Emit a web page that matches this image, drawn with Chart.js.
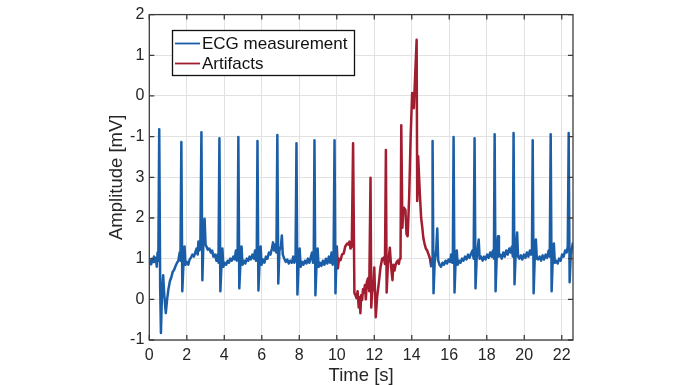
<!DOCTYPE html>
<html lang="en">
<head>
    <meta charset="UTF-8">
    <title>ECG measurement with artifacts</title>
    <script src="https://cdn.jsdelivr.net/npm/chart.js"></script>
    <style>
        body { margin: 0; background: #fff; }
        #wrap { width: 696px; height: 385px; position: relative; }
    </style>
</head>
<body>
    <div id="wrap"><canvas id="ecgChart"></canvas></div>

    <script>
        // tick labels as printed on the original y axis (bottom to top)
        const yTickLabels = ["-1", "0", "1", "2", "3", "-1", "0", "1", "2"];
        const xTickValues = [0, 2, 4, 6, 8, 10, 12, 14, 16, 18, 20, 22];
        const legendLabels = ["ECG measurement", "Artifacts"];

        // ECG before the artifact, [time s, amplitude]
        const ecgPart1 = [
            [0.00,0.88],[0.05,0.95],[0.10,0.86],[0.15,1.00],[0.20,0.92],[0.25,1.05],[0.30,0.95],[0.35,1.02],
            [0.40,0.80],[0.44,1.15],[0.48,0.95],[0.53,4.18],[0.58,0.30],[0.62,-0.83],[0.68,0.20],[0.74,0.59],
            [0.80,0.10],[0.88,-0.34],[0.95,0.00],[1.02,0.25],[1.10,0.45],[1.18,0.55],[1.25,0.68],[1.32,0.72],
            [1.40,0.82],[1.48,0.90],[1.55,0.95],[1.62,1.15],[1.66,0.95],[1.71,3.87],[1.76,0.20],[1.82,0.85],
            [1.88,1.30],[1.93,0.85],[2.00,0.92],[2.08,0.85],[2.15,0.98],[2.22,1.02],[2.30,1.10],[2.38,1.05],
            [2.45,1.15],[2.52,1.25],[2.58,1.10],[2.62,1.42],[2.67,1.20],[2.72,1.25],[2.78,4.11],[2.83,0.47],
            [2.88,1.30],[2.95,1.98],[3.00,1.35],[3.05,1.30],[3.12,1.22],[3.20,1.25],[3.28,1.15],[3.35,1.20],
            [3.42,1.05],[3.50,1.10],[3.58,0.95],[3.64,1.10],[3.69,0.90],[3.74,3.96],[3.79,0.20],[3.85,0.85],
            [3.90,1.25],[3.95,0.80],[4.02,0.90],[4.10,0.85],[4.18,0.95],[4.25,0.90],[4.32,1.00],[4.40,0.95],
            [4.48,1.05],[4.55,0.98],[4.62,1.20],[4.67,0.95],[4.71,1.00],[4.75,3.99],[4.80,0.27],[4.86,0.90],
            [4.92,1.30],[4.97,0.85],[5.05,0.95],[5.12,0.88],[5.20,1.00],[5.28,0.95],[5.35,1.05],[5.42,0.98],
            [5.50,1.10],[5.58,1.00],[5.64,1.20],[5.69,0.95],[5.73,1.00],[5.77,3.89],[5.82,0.22],[5.88,0.90],
            [5.94,1.30],[5.99,0.85],[6.06,0.98],[6.14,0.90],[6.22,1.05],[6.30,1.00],[6.38,1.15],[6.46,1.10],
            [6.54,1.25],[6.60,1.40],[6.66,1.20],[6.72,1.35],[6.78,1.15],[6.83,4.04],[6.88,0.39],[6.94,1.20],
            [7.02,1.30],[7.07,1.57],[7.12,1.10],[7.20,1.00],[7.28,0.92],[7.36,0.98],[7.44,0.88],[7.52,0.95],
            [7.60,0.90],[7.68,1.05],[7.74,0.90],[7.80,1.00],[7.85,3.84],[7.90,0.12],[7.96,0.85],[8.02,1.25],
            [8.07,0.80],[8.15,0.92],[8.22,0.85],[8.30,0.95],[8.38,0.88],[8.46,1.00],[8.54,0.90],[8.62,1.05],
            [8.68,1.15],[8.73,0.90],[8.77,1.00],[8.81,3.91],[8.86,0.10],[8.92,0.85],[8.98,1.25],[9.03,0.80],
            [9.10,0.90],[9.18,0.82],[9.26,0.95],[9.34,0.85],[9.42,1.00],[9.50,0.88],[9.58,1.05],[9.65,0.90],
            [9.72,1.15],[9.78,0.85],[9.83,1.05],[9.88,3.91],[9.93,0.15],[10.00,1.32]
        ];

        // ECG after the artifact
        const ecgPart2 = [
            [15.04,0.79],[15.08,1.00],[15.11,3.89],[15.16,0.15],[15.22,0.90],[15.30,1.20],[15.36,1.74],[15.41,0.95],
            [15.48,0.85],[15.56,0.80],[15.64,0.90],[15.72,0.85],[15.80,0.95],[15.88,0.88],[15.96,0.98],[16.04,0.92],
            [16.10,1.10],[16.15,0.90],[16.19,1.00],[16.23,3.99],[16.28,0.17],[16.34,0.95],[16.40,1.20],[16.45,0.85],
            [16.52,0.95],[16.60,0.90],[16.68,1.00],[16.76,0.95],[16.84,1.05],[16.92,0.98],[17.00,1.10],[17.08,1.02],
            [17.16,1.12],[17.24,1.20],[17.30,1.00],[17.35,3.96],[17.40,0.27],[17.46,1.00],[17.52,1.25],[17.57,1.47],
            [17.62,1.00],[17.70,1.05],[17.78,0.95],[17.86,1.05],[17.94,0.98],[18.02,1.10],[18.10,1.02],[18.18,1.15],
            [18.26,1.05],[18.33,1.20],[18.38,1.00],[18.42,4.06],[18.47,0.20],[18.53,1.05],[18.60,1.55],[18.65,1.05],
            [18.72,1.10],[18.80,1.00],[18.88,1.15],[18.96,1.05],[19.04,1.20],[19.12,1.10],[19.20,1.25],[19.28,1.15],
            [19.34,1.30],[19.39,1.05],[19.43,4.09],[19.48,0.37],[19.54,1.10],[19.62,1.64],[19.67,1.05],[19.74,1.00],
            [19.82,1.08],[19.90,0.98],[19.98,1.10],[20.06,1.02],[20.14,1.15],[20.22,1.05],[20.30,1.20],[20.36,1.10],
            [20.41,1.15],[20.45,3.91],[20.50,0.15],[20.56,1.05],[20.62,1.47],[20.67,1.00],[20.74,0.98],[20.82,1.05],
            [20.90,0.95],[20.98,1.08],[21.06,0.98],[21.14,1.10],[21.22,1.02],[21.30,1.20],[21.36,1.05],[21.41,4.06],
            [21.46,0.20],[21.52,1.00],[21.58,1.37],[21.63,0.90],[21.70,0.95],[21.78,0.88],[21.86,1.00],[21.94,0.95],
            [22.02,1.10],[22.10,1.05],[22.18,1.20],[22.26,1.15],[22.32,1.30],[22.37,4.09],[22.42,0.42],[22.48,1.10],
            [22.54,1.25],[22.60,1.40]
        ];

        // artifact segment
        const artifact = [
            [10.00,1.32],[10.06,0.76],[10.12,1.00],[10.20,0.96],[10.28,1.10],[10.37,1.13],[10.45,1.30],[10.55,1.37],
            [10.62,1.35],[10.68,1.42],[10.73,1.25],[10.80,1.30],[10.87,3.84],[10.94,0.15],[11.00,0.10],[11.05,0.03],
            [11.11,0.20],[11.17,-0.20],[11.22,0.05],[11.26,-0.34],[11.30,0.10],[11.35,-0.02],[11.40,0.25],[11.44,0.17],
            [11.50,0.35],[11.55,0.00],[11.60,0.42],[11.67,0.52],[11.73,0.20],[11.80,2.99],[11.84,-0.20],[11.90,0.30],
            [11.94,0.22],[12.00,0.78],[12.08,-0.44],[12.15,0.05],[12.24,0.39],[12.33,0.78],[12.42,1.00],[12.51,1.03],
            [12.57,0.87],[12.62,3.67],[12.66,0.17],[12.73,0.88],[12.78,1.05],[12.83,1.27],[12.90,0.78],[12.97,0.47],
            [13.02,0.85],[13.08,0.71],[13.14,0.85],[13.19,0.91],[13.25,0.95],[13.31,0.87],[13.36,1.00],[13.40,1.00],
            [13.44,4.28],[13.50,1.76],[13.54,2.18],[13.59,2.25],[13.66,2.20],[13.72,1.60],[13.78,1.55],[13.86,2.50],
            [13.94,4.00],[14.02,5.07],[14.11,4.70],[14.18,5.50],[14.26,6.38],[14.29,2.42],[14.34,3.52],[14.43,2.60],
            [14.50,2.00],[14.56,1.77],[14.62,1.50],[14.68,1.37],[14.75,1.25],[14.82,1.20],[14.90,1.10],[14.97,1.00],
            [15.04,0.79]
        ];

        const blue = "#1b5ea8";
        const red = "#a11d2f";
        const toXY = arr => arr.map(p => ({ x: p[0], y: p[1] }));

        // box round the axes with inward ticks, MATLAB style
        const axesBox = {
            id: "axesBox",
            afterDraw(chart) {
                const ctx = chart.ctx;
                const a = chart.chartArea;
                const xs = chart.scales.x, ys = chart.scales.y;
                ctx.save();
                ctx.strokeStyle = "#3c3c3c";
                ctx.lineWidth = 1.3;
                ctx.strokeRect(a.left, a.top, a.right - a.left, a.bottom - a.top);
                ctx.beginPath();
                xs.ticks.forEach(t => {
                    const px = xs.getPixelForValue(t.value);
                    ctx.moveTo(px, a.bottom); ctx.lineTo(px, a.bottom - 5);
                    ctx.moveTo(px, a.top); ctx.lineTo(px, a.top + 5);
                });
                ys.ticks.forEach(t => {
                    const py = ys.getPixelForValue(t.value);
                    ctx.moveTo(a.left, py); ctx.lineTo(a.left + 5, py);
                    ctx.moveTo(a.right, py); ctx.lineTo(a.right - 5, py);
                });
                ctx.stroke();

                // legend
                ctx.fillStyle = "#fff";
                ctx.fillRect(172.5, 30.5, 182, 45);
                ctx.strokeStyle = "#111";
                ctx.lineWidth = 1.3;
                ctx.strokeRect(172.5, 30.5, 182, 45);
                ctx.font = "17px 'Liberation Sans', Arial, sans-serif";
                ctx.textBaseline = "middle";
                [blue, red].forEach((c, i) => {
                    const y = 43.5 + i * 20;
                    ctx.strokeStyle = c;
                    ctx.lineWidth = 1.8;
                    ctx.beginPath();
                    ctx.moveTo(175, y); ctx.lineTo(200, y);
                    ctx.stroke();
                    ctx.fillStyle = "#111";
                    ctx.fillText(legendLabels[i], 202, y + 1);
                });
                ctx.restore();
            }
        };

        new Chart(document.getElementById("ecgChart"), {
            type: "line",
            data: {
                datasets: [{
                    label: legendLabels[0],
                    data: toXY(ecgPart1).concat([{ x: 12.5, y: null }], toXY(ecgPart2)),
                    borderColor: blue,
                    borderWidth: 2.5,
                    pointRadius: 0,
                    spanGaps: false
                }, {
                    label: legendLabels[1],
                    data: toXY(artifact),
                    borderColor: red,
                    borderWidth: 2.5,
                    pointRadius: 0
                }]
            },
            options: {
                responsive: true,
                maintainAspectRatio: false,
                animation: false,
                layout: { padding: { top: 13, right: 123, left: 0, bottom: 0 } },
                elements: { line: { tension: 0, borderJoinStyle: "round" } },
                plugins: { legend: { display: false }, tooltip: { enabled: false } },
                scales: {
                    x: {
                        type: "linear", min: 0, max: 22.6,
                        afterFit: s => { s.height = 45; },
                        afterBuildTicks: s => { s.ticks = xTickValues.map(v => ({ value: v })); },
                        ticks: { padding: 6, color: "#262626", autoSkip: false, maxRotation: 0,
                                 font: { family: "'Liberation Sans', Arial", size: 16 } },
                        grid: { color: "#e2e2e2", drawTicks: false },
                        border: { display: false },
                        title: { display: true, text: "Time [s]", color: "#262626", padding: 0,
                                 font: { family: "'Liberation Sans', Arial", size: 18.5, lineHeight: 1 } }
                    },
                    y: {
                        min: -1, max: 7,
                        afterFit: s => { s.width = 149.3; },
                        ticks: { stepSize: 1, padding: 5, color: "#262626",
                                 font: { family: "'Liberation Sans', Arial", size: 16 },
                                 callback: v => yTickLabels[v + 1] },
                        grid: { color: "#e2e2e2", drawTicks: false },
                        border: { display: false },
                        title: { display: true, text: "Amplitude [mV]", color: "#262626",
                                 padding: { top: 108 },
                                 font: { family: "'Liberation Sans', Arial", size: 18.5, lineHeight: 1 } }
                    }
                }
            },
            plugins: [axesBox]
        });
    </script>
</body>
</html>
